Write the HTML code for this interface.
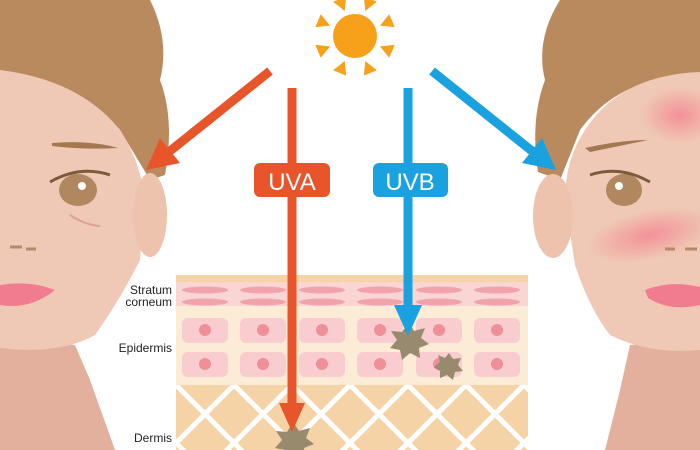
<!DOCTYPE html>
<html><head><meta charset="utf-8"><style>
html,body{margin:0;padding:0;background:#fff;width:700px;height:450px;overflow:hidden}
svg{display:block}
text{font-family:"Liberation Sans",sans-serif}
</style></head><body>
<svg width="700" height="450" viewBox="0 0 700 450" xmlns="http://www.w3.org/2000/svg">
<defs>
<pattern id="lat" x="176" y="385" width="58" height="58" patternUnits="userSpaceOnUse">
<rect width="58" height="58" fill="#f6d3a6"/>
<path d="M0 0L58 58M58 0L0 58" stroke="#fff" stroke-width="5"/>
</pattern>
<radialGradient id="blush"><stop offset="0" stop-color="#f48b95" stop-opacity="0.9"/><stop offset="1" stop-color="#f48b95" stop-opacity="0"/></radialGradient>
</defs>
<!-- LEFT FACE -->
<path d="M0 340 L75 345 L90 380 L115 450 L0 450Z" fill="#e2b09c"/>
<path d="M0 0 L150 0 Q170 40 160 80 Q175 120 165 175 L150 180 L120 130 Q80 85 0 70Z" fill="#b98a5e"/>
<path d="M0 70 Q80 80 120 130 Q140 160 145 200 L140 260 Q120 300 95 335 Q60 355 0 348Z" fill="#efc9b5"/>
<ellipse cx="150" cy="215" rx="17" ry="42" fill="#eec3ae"/>
<path d="M52 143 Q90 140 118 148 Q85 150 52 146Z" fill="#a37750"/>
<ellipse cx="78" cy="190" rx="19" ry="16" fill="#b0875e"/>
<circle cx="82" cy="186" r="4" fill="#fff"/>
<path d="M50 182 Q80 165 110 175" stroke="#7e5a3c" stroke-width="3" fill="none"/>
<path d="M70 215 Q85 225 100 226" stroke="#d9a394" stroke-width="2" fill="none"/>
<path d="M0 285 Q30 280 55 290 Q30 310 0 305Z" fill="#f17c90"/>
<path d="M10 247 h12 M26 249 h10" stroke="#b58a66" stroke-width="3"/>
<!-- RIGHT FACE -->
<path d="M700 340 L630 345 L620 390 L605 450 L700 450Z" fill="#e2b09c"/>
<path d="M560 0 L700 0 L700 75 Q620 75 580 130 L560 180 L538 172 Q530 120 545 80 Q535 40 560 0Z" fill="#b98a5e"/>
<path d="M700 72 Q620 75 585 130 Q565 160 565 200 L575 265 Q590 310 610 335 Q650 355 700 350Z" fill="#efc9b5"/>
<ellipse cx="553" cy="216" rx="20" ry="42" fill="#eec3ae"/>
<ellipse cx="680" cy="115" rx="40" ry="28" fill="url(#blush)"/>
<ellipse cx="650" cy="235" rx="65" ry="25" fill="url(#blush)" transform="rotate(-12 650 235)"/>
<path d="M585 148 Q620 140 648 140 Q620 146 590 152Z" fill="#a37750"/>
<ellipse cx="624" cy="190" rx="18" ry="16" fill="#b0875e"/>
<circle cx="619" cy="186" r="4" fill="#fff"/>
<path d="M590 175 Q620 165 650 182" stroke="#7e5a3c" stroke-width="3" fill="none"/>
<path d="M645 290 Q670 280 700 287 L700 305 Q670 312 648 298Z" fill="#f17c90"/>
<path d="M665 249 h10 M685 249 h12" stroke="#b58a66" stroke-width="3"/>
<!-- SKIN DIAGRAM -->
<rect x="176" y="275" width="352" height="8" fill="#f6d3a6"/>
<rect x="176" y="282" width="352" height="24" fill="#f9d5d3"/>
<rect x="176" y="306" width="352" height="80" fill="#fcebd5"/>
<rect x="176" y="385" width="352" height="65" fill="url(#lat)"/>
<g fill="#f0a3ab">
<ellipse cx="205" cy="290" rx="23" ry="3.5"/><ellipse cx="263" cy="290" rx="23" ry="3.5"/><ellipse cx="322" cy="290" rx="23" ry="3.5"/><ellipse cx="380" cy="290" rx="23" ry="3.5"/><ellipse cx="439" cy="290" rx="23" ry="3.5"/><ellipse cx="497" cy="290" rx="23" ry="3.5"/>
<ellipse cx="205" cy="302" rx="23" ry="3.5"/><ellipse cx="263" cy="302" rx="23" ry="3.5"/><ellipse cx="322" cy="302" rx="23" ry="3.5"/><ellipse cx="380" cy="302" rx="23" ry="3.5"/><ellipse cx="439" cy="302" rx="23" ry="3.5"/><ellipse cx="497" cy="302" rx="23" ry="3.5"/>
</g>
<g fill="#f9cdcf">
<rect x="182" y="318" width="46" height="25" rx="6"/><rect x="240" y="318" width="46" height="25" rx="6"/><rect x="299" y="318" width="46" height="25" rx="6"/><rect x="357" y="318" width="46" height="25" rx="6"/><rect x="416" y="318" width="46" height="25" rx="6"/><rect x="474" y="318" width="46" height="25" rx="6"/>
<rect x="182" y="352" width="46" height="25" rx="6"/><rect x="240" y="352" width="46" height="25" rx="6"/><rect x="299" y="352" width="46" height="25" rx="6"/><rect x="357" y="352" width="46" height="25" rx="6"/><rect x="416" y="352" width="46" height="25" rx="6"/><rect x="474" y="352" width="46" height="25" rx="6"/>
</g>
<g fill="#ef8f97">
<circle cx="205" cy="330" r="6"/><circle cx="263" cy="330" r="6"/><circle cx="322" cy="330" r="6"/><circle cx="380" cy="330" r="6"/><circle cx="439" cy="330" r="6"/><circle cx="497" cy="330" r="6"/>
<circle cx="205" cy="364" r="6"/><circle cx="263" cy="364" r="6"/><circle cx="322" cy="364" r="6"/><circle cx="380" cy="364" r="6"/><circle cx="439" cy="364" r="6"/><circle cx="497" cy="364" r="6"/>
</g>
<text x="172" y="294" font-size="12" text-anchor="end" fill="#222">Stratum</text>
<text x="172" y="306" font-size="12" text-anchor="end" fill="#222">corneum</text>
<text x="172" y="352" font-size="12" text-anchor="end" fill="#222">Epidermis</text>
<text x="172" y="442" font-size="12" text-anchor="end" fill="#222">Dermis</text>
<!-- spots -->
<g fill="#978a6d">
<polygon points="409,322 414,331 425,328 421,338 429,344 419,348 420,358 410,353 402,360 400,350 390,348 397,340 391,331 402,332"/>
<polygon points="449,353 453,359 461,358 458,365 463,371 455,372 453,380 447,375 440,378 440,371 434,367 440,362 438,355 445,358"/>
<polygon points="293,422 299,431 310,428 306,438 314,444 304,448 305,458 295,453 287,460 285,450 275,448 282,440 276,431 287,432"/>
</g>
<!-- sun -->
<g fill="#f7a11a" transform="translate(355 36)">
<circle r="22"/>
<g id="ray"><polygon points="0,-27 -7,-40 7,-40" transform="rotate(22.5)"/></g>
<use href="#ray" transform="rotate(45)"/><use href="#ray" transform="rotate(90)"/><use href="#ray" transform="rotate(135)"/>
<use href="#ray" transform="rotate(180)"/><use href="#ray" transform="rotate(225)"/><use href="#ray" transform="rotate(270)"/><use href="#ray" transform="rotate(315)"/>
</g>
<!-- arrows -->
<g stroke="#e9552a" stroke-width="9" fill="#e9552a">
<line x1="270" y1="71" x2="170" y2="151"/>
<line x1="292" y1="88" x2="292" y2="405"/>
</g>
<polygon points="146,170 160,138 180,163" fill="#e9552a"/>
<polygon points="279,403 305,403 292,432" fill="#e9552a"/>
<g stroke="#1aa1df" stroke-width="9" fill="#1aa1df">
<line x1="432" y1="71" x2="532" y2="151"/>
<line x1="408" y1="88" x2="408" y2="308"/>
</g>
<polygon points="556,170 542,138 522,163" fill="#1aa1df"/>
<polygon points="394,305 422,305 408,336" fill="#1aa1df"/>
<rect x="254" y="163" width="76" height="34" rx="6" fill="#e9552a"/>
<text x="292" y="190" font-size="24" text-anchor="middle" fill="#fff">UVA</text>
<rect x="373" y="163" width="75" height="34" rx="6" fill="#1aa1df"/>
<text x="410" y="190" font-size="24" text-anchor="middle" fill="#fff">UVB</text>
</svg>
</body></html>
